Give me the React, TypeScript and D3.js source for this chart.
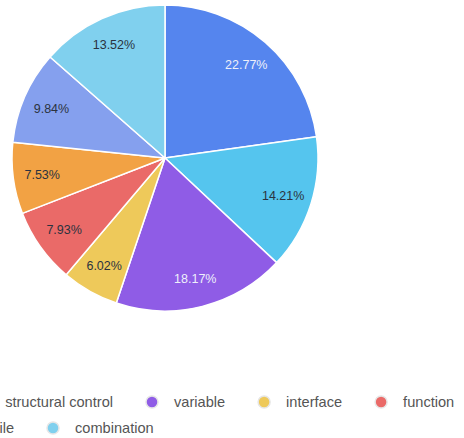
import { useEffect, useRef } from "react";
import * as d3 from "d3";

// slices, clockwise from 12 o'clock
const categories = ["basic syntax", "structural control", "variable", "interface", "function", "loop", "file", "combination"];
const shares = [22.77, 14.21, 18.17, 6.02, 7.93, 7.53, 9.84, 13.52];
const colors = ["#5585ee", "#55c5ee", "#8f5ce6", "#eec95a", "#ea6a68", "#f2a244", "#85a0ee", "#80d0ee"];
const lightLabel = [true, false, true, false, false, false, false, false];

// legend rows (index into categories); anchor = item whose marker position is known
const legendRows = [
  { items: [0, 1, 2, 3, 4, 5], anchor: 2, anchorX: 152 },
  { items: [6, 7], anchor: 7, anchorX: 53 },
];

export default function App() {
  const ref = useRef<SVGSVGElement>(null);

  useEffect(() => {
    if (!ref.current) return;
    const w = 464;
    const h = 438;
    const cx = 165;
    const cy = 158;
    const r = 153;
    const font = "'Liberation Sans', Arial, sans-serif";

    const svg = d3.select(ref.current);
    svg.selectAll("*").remove();
    svg.attr("width", w).attr("height", h).attr("viewBox", `0 0 ${w} ${h}`);

    const data = categories.map((c, i) => ({ name: c, value: shares[i], color: colors[i], light: lightLabel[i] }));
    const pie = d3.pie<(typeof data)[number]>().value((d) => d.value).sort(null);
    const arcs = pie(data);
    const arc = d3.arc<d3.PieArcDatum<(typeof data)[number]>>().innerRadius(0).outerRadius(r);
    const labelArc = d3.arc<d3.PieArcDatum<(typeof data)[number]>>().innerRadius(r * 0.81).outerRadius(r * 0.81);

    const g = svg.append("g").attr("transform", `translate(${cx},${cy})`);
    g.selectAll("path")
      .data(arcs)
      .join("path")
      .attr("d", arc)
      .attr("fill", (d) => d.data.color)
      .attr("stroke", "#fff")
      .attr("stroke-width", 1.5)
      .attr("stroke-linejoin", "round");

    g.selectAll("text")
      .data(arcs)
      .join("text")
      .attr("transform", (d) => `translate(${labelArc.centroid(d)})`)
      .attr("text-anchor", "middle")
      .attr("dy", "0.35em")
      .attr("font-family", font)
      .attr("font-size", 12.5)
      .attr("fill", (d) => (d.data.light ? "#eef0fa" : "#2b3340"))
      .text((d) => d.data.value.toFixed(2) + "%");

    // legend
    const rowY = [402, 428];
    const markerR = 6;
    const textGap = 22;
    const itemGap = 33;
    legendRows.forEach((row, ri) => {
      const lg = svg.append("g");
      const widths: number[] = row.items.map((i) => {
        const t = lg.append("text").attr("font-family", font).attr("font-size", 14.6).text(categories[i]);
        const len = (t.node() as SVGTextElement).getComputedTextLength();
        t.remove();
        return len;
      });
      const xs: number[] = [];
      let x = 0;
      row.items.forEach((_, k) => {
        xs.push(x);
        x += textGap + widths[k] + itemGap + markerR;
      });
      const shift = row.anchorX - xs[row.items.indexOf(row.anchor)];
      row.items.forEach((i, k) => {
        const mx = xs[k] + shift;
        lg.append("circle")
          .attr("cx", mx)
          .attr("cy", rowY[ri])
          .attr("r", markerR)
          .attr("fill", colors[i])
          .attr("stroke", "#e6e6e6")
          .attr("stroke-width", 1.5);
        lg.append("text")
          .attr("x", mx + textGap)
          .attr("y", rowY[ri])
          .attr("dy", "0.35em")
          .attr("font-family", font)
          .attr("font-size", 14.6)
          .attr("fill", "#555")
          .text(categories[i]);
      });
    });
  }, []);

  return <svg ref={ref} style={{ position: "absolute", left: 0, top: 0 }} />;
}
